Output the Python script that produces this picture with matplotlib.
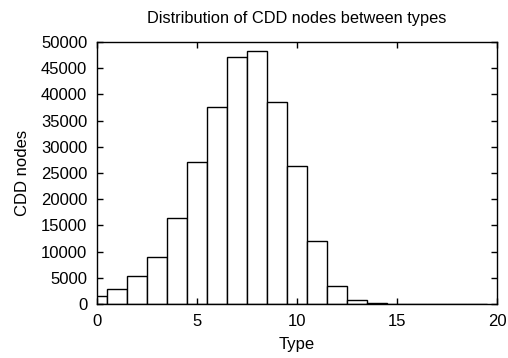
import matplotlib
matplotlib.use("Agg")
import matplotlib.pyplot as plt

plt.rcParams['font.family'] = ['Liberation Sans', 'DejaVu Sans']

types = list(range(0, 20))
counts = [1600, 2850, 5350, 9050, 16400, 27100, 37650, 47200, 48200, 38600,
          26250, 12000, 3400, 700, 180, 60, 30, 15, 8, 4]

fig = plt.figure(figsize=(5.08, 3.58), dpi=100)
ax = fig.add_axes([97 / 508, 54 / 358, 400 / 508, 262 / 358])

ax.bar(types, counts, width=1.0, color='white', edgecolor='black', linewidth=1.0)

ax.set_xlim(0, 20)
ax.set_ylim(0, 50000)
ax.set_xticks([0, 5, 10, 15, 20])
ax.set_yticks(range(0, 50001, 5000))
ax.tick_params(direction='in', length=4, width=1, top=True, right=True,
               labelsize=12, pad=7)
for s in ax.spines.values():
    s.set_linewidth(1.0)

ax.set_xlabel('Type', fontsize=12, labelpad=6)
ax.set_ylabel('CDD nodes', fontsize=12, labelpad=8)
fig.text(297 / 508, 1 - 18 / 358, 'Distribution of CDD nodes between types',
         ha='center', va='center', fontsize=11.8)

fig.savefig('out.png', dpi=100)
